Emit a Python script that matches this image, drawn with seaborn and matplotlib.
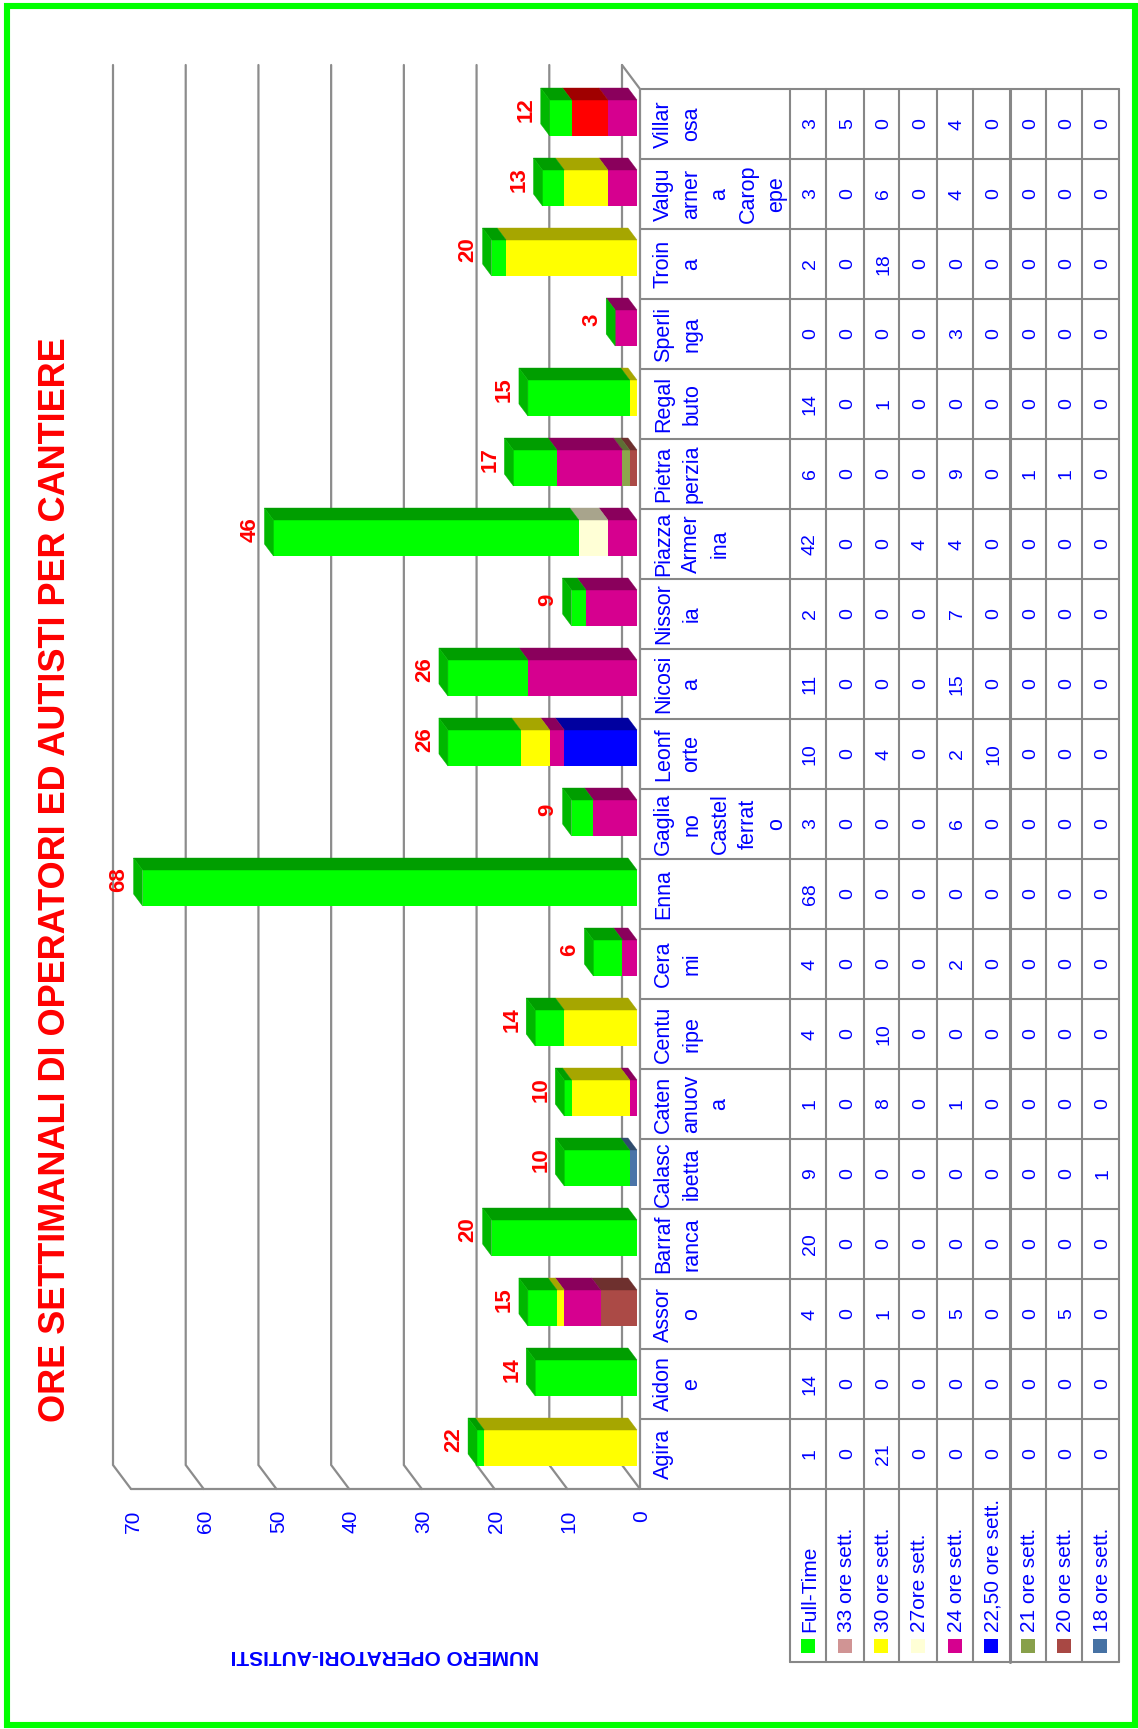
import numpy as np
import pandas as pd
import seaborn as sns
import matplotlib
matplotlib.use("Agg")
import matplotlib.pyplot as plt
from matplotlib.patches import Polygon, Rectangle
from matplotlib.transforms import blended_transform_factory
import matplotlib.font_manager as fm

# ---------------- data ----------------
CATEGORIES = ["Agira", "Aidone", "Assoro", "Barrafranca", "Calascibetta", "Catenanuova",
              "Centuripe", "Cerami", "Enna", "Gagliano Castelferrato", "Leonforte", "Nicosia",
              "Nissoria", "Piazza Armerina", "Pietraperzia", "Regalbuto", "Sperlinga",
              "Troina", "Valguarnera Caropepe", "Villarosa"]
TABLE_LABELS = ["Agira", "Aidon\ne", "Assor\no", "Barraf\nranca", "Calasc\nibetta",
                "Caten\nanuov\na", "Centu\nripe", "Cera\nmi", "Enna",
                "Gaglia\nno\nCastel\nferrat\no", "Leonf\norte", "Nicosi\na", "Nissor\nia",
                "Piazza\nArmer\nina", "Pietra\nperzia", "Regal\nbuto", "Sperli\nnga",
                "Troin\na", "Valgu\narner\na\nCarop\nepe", "Villar\nosa"]
SERIES = ["Full-Time", "33 ore sett.", "30 ore sett.", "27ore sett.", "24 ore sett.",
          "22,50 ore sett.", "21 ore sett.", "20 ore sett.", "18 ore sett."]
full_time = [1, 14, 4, 20, 9, 1, 4, 4, 68, 3, 10, 11, 2, 42, 6, 14, 0, 2, 3, 3]
ore_33 = [0, 0, 0, 0, 0, 0, 0, 0, 0, 0, 0, 0, 0, 0, 0, 0, 0, 0, 0, 5]
ore_30 = [21, 0, 1, 0, 0, 8, 10, 0, 0, 0, 4, 0, 0, 0, 0, 1, 0, 18, 6, 0]
ore_27 = [0, 0, 0, 0, 0, 0, 0, 0, 0, 0, 0, 0, 0, 4, 0, 0, 0, 0, 0, 0]
ore_24 = [0, 0, 5, 0, 0, 1, 0, 2, 0, 6, 2, 15, 7, 4, 9, 0, 3, 0, 4, 4]
ore_22_5 = [0, 0, 0, 0, 0, 0, 0, 0, 0, 0, 10, 0, 0, 0, 0, 0, 0, 0, 0, 0]
ore_21 = [0, 0, 0, 0, 0, 0, 0, 0, 0, 0, 0, 0, 0, 0, 1, 0, 0, 0, 0, 0]
ore_20 = [0, 0, 5, 0, 0, 0, 0, 0, 0, 0, 0, 0, 0, 0, 1, 0, 0, 0, 0, 0]
ore_18 = [0, 0, 0, 0, 1, 0, 0, 0, 0, 0, 0, 0, 0, 0, 0, 0, 0, 0, 0, 0]
TOTAL_LABELS = ["22", "14", "15", "20", "10", "10", "14", "6", "68", "9", "26", "26", "9",
                "46", "17", "15", "3", "20", "13", "12"]
TICKS = [0, 10, 20, 30, 40, 50, 60, 70]
TITLE = "ORE SETTIMANALI DI OPERATORI ED AUTISTI PER CANTIERE"
YLABEL = "NUMERO OPERATORI-AUTISTI"

VALUES = [full_time, ore_33, ore_30, ore_27, ore_24, ore_22_5, ore_21, ore_20, ore_18]

# ---------------- styles ----------------
FRONT = ["#00FF00", "#FF0000", "#FFFF00", "#FFFFD6", "#D6008F", "#0000FF", "#8CA64C", "#AB4A46", "#4A74A8"]
SIDE = ["#009E00", "#A00000", "#A6A600", "#A8A48C", "#8A005C", "#0000A0", "#5E6E34", "#6E302E", "#2F4C6E"]
KEY = ["#00FF00", "#D09494", "#FFFF00", "#FFFFD6", "#D6008F", "#0000FF", "#88A04A", "#A84844", "#4672A4"]
TOP_FACE = "#00B800"
BLUE = "#0000FF"
GRID = "#8C8C8C"

sns.set_theme(style="white")
plt.rcParams["font.family"] = ["Liberation Sans", "DejaVu Sans"]

_names = {f.name for f in fm.fontManager.ttflist}
HAS_NARROW = "Liberation Sans Narrow" in _names
if HAS_NARROW:
    TITLE_FONT = dict(family=["Liberation Sans Narrow", "Liberation Sans"], fontsize=30)
    YLAB_FONT = dict(family=["Liberation Sans Narrow", "Liberation Sans"], fontsize=17)
else:
    TITLE_FONT = dict(family=["Liberation Sans", "DejaVu Sans"], fontsize=26)
    YLAB_FONT = dict(family=["Liberation Sans", "DejaVu Sans"], fontsize=15)

W, H = 1138, 1729
fig = plt.figure(figsize=(W / 100, H / 100), dpi=100)
fig.patch.set_facecolor("white")

# overlay axes in pixel coordinates (for table / titles / frame)
ov = fig.add_axes([0, 0, 1, 1], zorder=0)
ov.set_xlim(0, W)
ov.set_ylim(H, 0)
ov.axis("off")

# main plot axes (front plane): value 70 at x=131, 0 at x=640; categories 89..1489
X70, X0, YTOP, YBOT = 131, 640, 89, 1489
ax = fig.add_axes([X70 / W, (H - YBOT) / H, (X0 - X70) / W, (YBOT - YTOP) / H], zorder=1)
ax.patch.set_visible(False)

PXU = (X0 - X70) / 70.0      # px per value unit
PXC = (YBOT - YTOP) / 20.0   # px per category


def dv(px):  # horizontal px (leftwards) -> value units
    return px / PXU


def dc(px):  # vertical px (upwards) -> category units
    return px / PXC


# 3D geometry
WALL_DV, WALL_DC = dv(18), dc(24)
BAR_W = 0.514
F_DV, F_DC = dv(3), dc(6)
B_DV, B_DC = dv(9), dc(12)

# ---- back wall gridlines ----
for t in TICKS:
    ax.plot([t, t + WALL_DV, t + WALL_DV], [-0.5, -0.5 + WALL_DC, 19.5 + WALL_DC],
            color=GRID, lw=1.6, clip_on=False, zorder=1, solid_joinstyle="miter")
ax.plot([70, 0], [-0.5, -0.5], color=GRID, lw=1.6, clip_on=False, zorder=1)
ax.plot([WALL_DV, 0, 0], [19.5 + WALL_DC, 19.5, -0.5], color=GRID, lw=1.6, clip_on=False, zorder=1)

# ---- stacked bars (front faces) via seaborn, cumulative overlay ----
n = len(CATEGORIES)
stack_order = list(range(len(SERIES)))[::-1]  # base: 18 ore ... top: Full-Time
running = np.zeros(n)
bounds = {}
for s in stack_order:
    start = running.copy()
    running = running + np.array(VALUES[s], dtype=float)
    bounds[s] = (start, running.copy())
totals = running.copy()

for s in stack_order[::-1]:  # draw largest cumulative first
    df = pd.DataFrame({"cat": CATEGORIES, "val": bounds[s][1]})
    before = len(ax.patches)
    sns.barplot(data=df, x="val", y="cat", order=CATEGORIES, orient="h", color=FRONT[s],
                saturation=1, width=BAR_W, errorbar=None, linewidth=0, ax=ax, zorder=3)
    for p in ax.patches[before:]:
        p.set_x(p.get_x() + F_DV)
        p.set_y(p.get_y() + F_DC)
        p.set_clip_on(False)
        p.set_zorder(3)

# ---- side faces and top faces ----
for i in range(n):
    yc = i + F_DC + BAR_W / 2
    for s in stack_order:
        a, b = bounds[s][0][i], bounds[s][1][i]
        if b - a <= 0:
            continue
        poly = Polygon([(a + F_DV, yc), (b + F_DV, yc), (b + F_DV + B_DV, yc + B_DC),
                        (a + F_DV + B_DV, yc + B_DC)], closed=True, facecolor=SIDE[s],
                       edgecolor=SIDE[s], lw=0.3, zorder=3, clip_on=False)
        ax.add_patch(poly)
    T = totals[i]
    yb = i + F_DC - BAR_W / 2
    poly = Polygon([(T + F_DV, yb), (T + F_DV, yc), (T + F_DV + B_DV, yc + B_DC),
                    (T + F_DV + B_DV, yb + B_DC)], closed=True, facecolor=TOP_FACE,
                   edgecolor=TOP_FACE, lw=0.3, zorder=3, clip_on=False)
    ax.add_patch(poly)
    ax.text(T + F_DV + dv(18), i + F_DC + dc(8), TOTAL_LABELS[i], rotation=90,
            rotation_mode="anchor", ha="center", va="baseline", color="red",
            fontsize=16, fontweight="bold", zorder=5, clip_on=False)

# ---- value tick labels ----
for t in TICKS:
    ax.text(t - dv(7.5), -0.5 - dc(21), str(t), rotation=90, rotation_mode="anchor",
            ha="right", va="baseline", color=BLUE, fontsize=15, clip_on=False)

ax.set_xlim(70, 0)
ax.set_ylim(-0.5, 19.5)
ax.axis("off")

# ---- data table ----
bt = blended_transform_factory(ov.transData, ax.transData)
COLS = [790, 826, 864, 899, 937, 973, 1010, 1046, 1082, 1119]
TAB_LEFT = 641
LEG_BOT = 1662
TL = "#878787"
for k in range(n + 1):
    ov.plot([TAB_LEFT, COLS[-1]], [k - 0.5, k - 0.5], color=TL, lw=1.5, transform=bt,
            clip_on=False, zorder=2)
for j, x in enumerate(COLS):
    ov.plot([x, x], [YTOP, LEG_BOT], color=TL, lw=2.2 if j == 6 else 1.5, clip_on=False, zorder=2)
ov.plot([COLS[0], COLS[-1]], [LEG_BOT, LEG_BOT], color=TL, lw=1.5, zorder=2)

for i in range(n):
    ov.text(653, i, TABLE_LABELS[i], transform=bt, rotation=90, rotation_mode="anchor",
            ha="center", va="top", multialignment="center", linespacing=1.45,
            color=BLUE, fontsize=15.5, zorder=4)
    for s in range(len(SERIES)):
        cx = (COLS[s] + COLS[s + 1]) / 2
        ov.text(cx + 7, i, str(VALUES[s][i]), transform=bt, rotation=90, rotation_mode="anchor",
                ha="center", va="baseline", color=BLUE, fontsize=14, zorder=4)

for s in range(len(SERIES)):
    cx = (COLS[s] + COLS[s + 1]) / 2
    ov.add_patch(Rectangle((cx - 7, 1639), 14, 14, facecolor=KEY[s], edgecolor="none", zorder=4))
    ov.text(cx + 7.5, 1632, SERIES[s], rotation=90, rotation_mode="anchor", ha="left",
            va="baseline", color=BLUE, fontsize=15, zorder=4)

# ---- title & axis label ----
ov.text(65, 880, TITLE, rotation=90, rotation_mode="anchor", ha="center", va="baseline",
        color="red", fontweight="bold", **TITLE_FONT)
ov.text(385, 1650, YLABEL, rotation=180, rotation_mode="anchor", ha="center", va="baseline",
        color=BLUE, fontweight="bold", **YLAB_FONT)

# ---- green frame ----
ov.add_patch(Rectangle((7, 6), 1128, 1719, fill=False, edgecolor="#00FF00", lw=4.4, zorder=6))

fig.savefig("out.png", dpi=100)
